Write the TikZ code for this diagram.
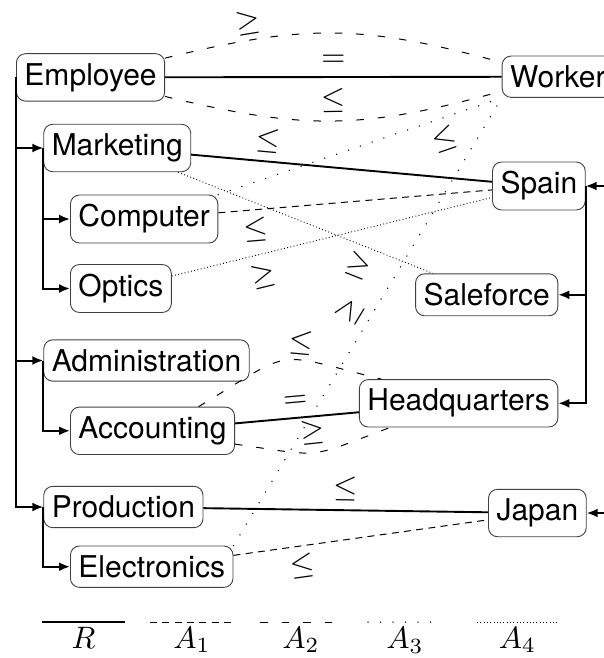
\documentclass[tikz,border=0pt]{standalone}
\usepackage{graphicx}
\usepackage[no-math]{fontspec}
\setmainfont{TeX Gyre Heros}
\usetikzlibrary{arrows.meta}
\newcommand{\mlab}[1]{\scalebox{3.1}{$#1$}}
\begin{document}
\begin{tikzpicture}[x=1pt,y=-1pt,
  box/.style={draw=black!75, line width=0.9pt, rounded corners=9pt, inner xsep=8pt, inner ysep=9.5pt, font=\fontsize{30}{36}\selectfont},
  tree/.style={line width=2pt, -{Latex[length=11pt,width=9pt]}},
  rel/.style={line width=1.9pt},
  aone/.style={line width=1pt, dash pattern=on 7pt off 5.3pt},
  atwo/.style={line width=1pt, dash pattern=on 7.5pt off 14pt},
  athree/.style={line width=1.5pt, line cap=round, dash pattern=on 0pt off 12.5pt},
  afour/.style={line width=0.9pt, dash pattern=on 0.9pt off 2.4pt},
  lab/.style={sloped, inner sep=2pt},
  leg/.style={inner sep=2pt}]
\useasboundingbox (0,0) rectangle (604,658);
\clip (0,0) rectangle (604,658);
% left nodes
\node[box, anchor=west] (Employee) at (16,77.4) {Employee};
\node[box, anchor=west] (Marketing) at (43.3,148) {Marketing};
\node[box, anchor=west] (Computer) at (70,219) {Computer};
\node[box, anchor=west] (Optics) at (70,288.5) {Optics};
\node[box, anchor=west] (Administration) at (43.3,360.5) {Administration};
\node[box, anchor=west] (Accounting) at (70,430.8) {Accounting};
\node[box, anchor=west] (Production) at (43.3,507) {Production};
\node[box, anchor=west] (Electronics) at (70,566.7) {Electronics};
% right nodes
\node[box, anchor=west] (Worker) at (501.7,76.7) {Worker};
\node[box, anchor=east] (Spain) at (585.7,186) {Spain};
\node[box, anchor=east] (Saleforce) at (558.3,294.8) {Saleforce};
\node[box, anchor=east] (Headquarters) at (558.3,403.3) {Headquarters};
\node[box, anchor=east] (Japan) at (586.7,513) {Japan};
% trees
\draw[tree] (Employee.west) |- (Marketing.west);
\draw[tree] (Employee.west) |- (Administration.west);
\draw[tree] (Employee.west) |- (Production.west);
\draw[tree] (Marketing.west) |- (Computer.west);
\draw[tree] (Marketing.west) |- (Optics.west);
\draw[tree] (Administration.west) |- (Accounting.west);
\draw[tree] (Production.west) |- (Electronics.west);
\draw[tree] (Worker.east) |- (Spain.east);
\draw[tree] (Worker.east) |- (Japan.east);
\draw[tree] (Spain.east) |- (Saleforce.east);
\draw[tree] (Spain.east) |- (Headquarters.east);
% Employee - Worker
\draw[rel] (Employee) -- node[lab, midway, above=8pt] {\mlab{=}} (Worker);
\draw[atwo] (Employee) to[bend left=14.5, looseness=1.1] node[lab, pos=0.23, above=5pt, inner sep=0pt] {\mlab{\geq}} (Worker);
\draw[atwo] (Employee) to[bend right=14.5, looseness=1.1] node[lab, midway, above=6pt] {\mlab{\leq}} (Worker);
% Marketing group
\draw[rel] (Marketing) -- node[lab, pos=0.25, above=6pt] {\mlab{\leq}} (Spain);
\draw[athree] (Computer.north east) -- node[lab, pos=0.773, below=6pt] {\mlab{\leq}} (Worker.south west);
\draw[aone] (Computer) -- node[lab, pos=0.13, below=6pt] {\mlab{\leq}} (Spain);
\draw[afour] (Optics) -- node[lab, pos=0.27, below=8pt] {\mlab{\geq}} (Spain);
\draw[afour] (Marketing) -- node[lab, pos=0.74, below=6pt] {\mlab{\geq}} (Saleforce);
\draw[athree] (Electronics.north east) -- node[lab, pos=0.5, above=6pt] {\mlab{\geq}} (Worker.south west);
% Accounting - Headquarters
\draw[rel] (Accounting) -- node[lab, midway, above=8pt] {\mlab{=}} (Headquarters);
\draw[atwo] (Accounting) to[bend left=22.5, looseness=1.6] node[lab, pos=0.62, above=3pt] {\mlab{\leq}} (Headquarters);
\draw[atwo] (Accounting) to[bend right=14.3, looseness=1.5] node[lab, midway, above=6pt] {\mlab{\geq}} (Headquarters);
% Production / Electronics - Japan
\draw[rel] (Production) -- node[lab, midway, above=6pt] {\mlab{\leq}} (Japan);
\draw[aone] (Electronics) -- node[lab, pos=0.26, below=6pt] {\mlab{\leq}} (Japan);
% legend
\coordinate (rA) at (42,622); \coordinate (rB) at (125,622);
\coordinate (aA) at (150,622); \coordinate (aB) at (234,622);
\coordinate (bA) at (260,622); \coordinate (bB) at (342,622);
\coordinate (cA) at (368,622); \coordinate (cB) at (442,622);
\coordinate (dA) at (477,622); \coordinate (dB) at (558,622);
\draw[rel] (rA) -- node[leg, midway, below=2.5pt] {\mlab{R}} (rB);
\draw[aone] (aA) -- node[leg, midway, below=2.5pt] {\mlab{A_1}} (aB);
\draw[atwo] (bA) -- node[leg, midway, below=2.5pt] {\mlab{A_2}} (bB);
\draw[athree] (cA) -- node[leg, midway, below=2.5pt] {\mlab{A_3}} (cB);
\draw[afour] (dA) -- node[leg, midway, below=2.5pt] {\mlab{A_4}} (dB);
\end{tikzpicture}
\end{document}
